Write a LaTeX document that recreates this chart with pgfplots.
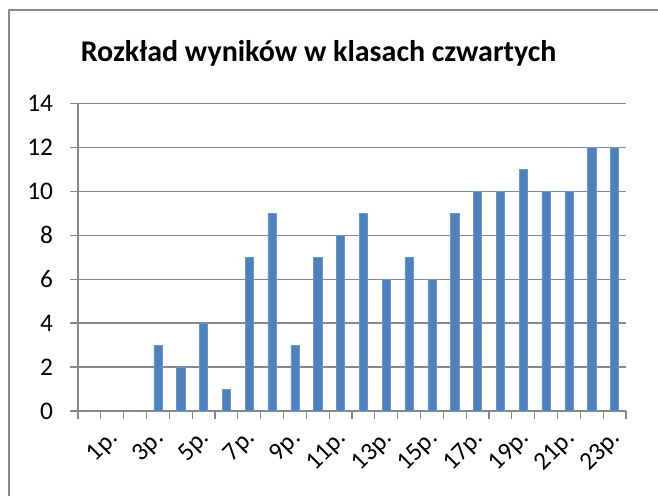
\documentclass[border=0pt]{standalone}
\usepackage{fontspec}
\setmainfont{Carlito}
\usepackage{pgfplots}
\pgfplotsset{compat=1.18}
\definecolor{barblue}{HTML}{4F81BD}
\definecolor{baredge}{HTML}{6A97CF}
\definecolor{gridgray}{HTML}{888888}
\begin{document}
\begin{tikzpicture}
\useasboundingbox (0pt,0pt) rectangle (493.5pt,372pt);
\draw[gridgray, line width=0.9pt] (6.75pt,0pt) -- (6.75pt,364.5pt) -- (493.5pt,364.5pt);
\node[font=\fontsize{22.5}{26}\selectfont\bfseries] at (239pt,332pt) {Rozkład wyników w klasach czwartych};
\begin{axis}[
  at={(58.5pt,63.75pt)}, anchor=origin,
  scale only axis, width=411pt, height=230.8pt,
  xmin=0.5, xmax=24.5, ymin=0, ymax=14,
  axis lines=left, axis line style={-, gridgray, line width=0.9pt},
  ytick={0,2,...,14},
  minor ytick={0,2,...,14},
  ymajorgrids, grid style={gridgray, line width=0.9pt},
  xtick={1,...,24},
  xticklabels={1p.,,3p.,,5p.,,7p.,,9p.,,11p.,,13p.,,15p.,,17p.,,19p.,,21p.,,23p.,},
  minor xtick={0.5,1.5,...,24.5},
  tick label style={font=\fontsize{19}{21}\selectfont},
  xticklabel style={rotate=45, anchor=east, inner sep=0pt, xshift=1pt, yshift=-26pt},
  yticklabel style={anchor=east, inner sep=0pt, xshift=-18.5pt},
  tick align=outside, major tick length=0pt, minor tick length=6pt,
  tick style={gridgray, line width=0.9pt},
  /pgf/number format/assume math mode=true,
  clip=false,
]
\addplot[ybar, bar width=6.2pt, fill=barblue, draw=baredge, line width=0.4pt] coordinates {
(1,0) (2,0) (3,0) (4,3) (5,2) (6,4) (7,1) (8,7) (9,9) (10,3) (11,7) (12,8)
(13,9) (14,6) (15,7) (16,6) (17,9) (18,10) (19,10) (20,11) (21,10) (22,10) (23,12) (24,12)
};
\end{axis}
\end{tikzpicture}
\end{document}
